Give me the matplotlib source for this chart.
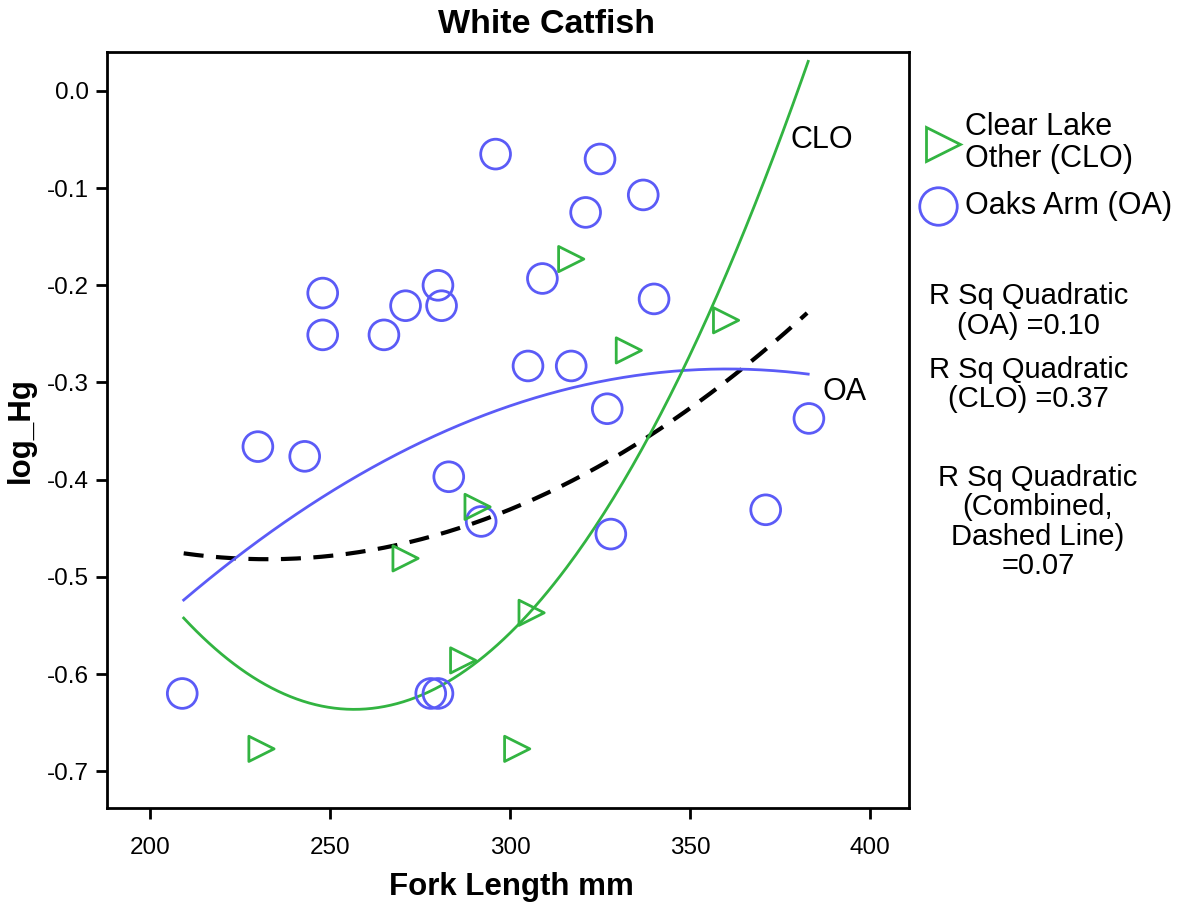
import numpy as np
import matplotlib.pyplot as plt
from matplotlib.lines import Line2D

plt.rcParams['font.family'] = ['Liberation Sans', 'DejaVu Sans']

# Oaks Arm (OA) points
oa_len = [209, 230, 243, 248, 248, 265, 271, 280, 281, 283, 292, 296, 305, 309,
          317, 321, 325, 327, 328, 337, 340, 371, 383, 278, 280]
oa_hg = [-0.62, -0.366, -0.376, -0.208, -0.251, -0.251, -0.221, -0.200, -0.221,
         -0.397, -0.443, -0.065, -0.283, -0.193, -0.283, -0.125, -0.070, -0.327,
         -0.456, -0.107, -0.214, -0.431, -0.337, -0.620, -0.620]

# Clear Lake Other (CLO) points
clo_len = [231, 271, 287, 291, 302, 306, 317, 333, 360]
clo_hg = [-0.677, -0.481, -0.586, -0.428, -0.677, -0.537, -0.173, -0.267, -0.236]

# quadratic fit lines
oa_fit_len = [209.4, 269.4, 307.5, 325.0, 347.2, 361.9, 382.8]
oa_fit_hg = [-0.525, -0.368, -0.318, -0.301, -0.288, -0.285, -0.291]
clo_fit_len = [209.4, 256.1, 280.6, 313.1, 325.0, 343.6, 347.2, 361.9, 378.6, 382.8]
clo_fit_hg = [-0.544, -0.635, -0.609, -0.500, -0.449, -0.318, -0.290, -0.181, -0.009, 0.032]
all_fit_len = [209.4, 234.4, 265.8, 290.0, 313.1, 325.0, 352.8, 361.9, 382.5]
all_fit_hg = [-0.476, -0.481, -0.469, -0.447, -0.408, -0.387, -0.318, -0.290, -0.231]

blue = '#5b5bf7'
green = '#32b441'

fig = plt.figure(figsize=(11.9, 9.07), dpi=100)
ax = fig.add_axes([0.0899, 0.109, 0.674, 0.8337])


def fit_curve(xv, yv):
    xs = np.linspace(min(xv), max(xv), 200)
    return xs, np.polyval(np.polyfit(xv, yv, 2), xs)


xs, ys = fit_curve(all_fit_len, all_fit_hg)
ax.plot(xs, ys, color='black', lw=3, dashes=(4.8, 3.0), zorder=2)
xs, ys = fit_curve(oa_fit_len, oa_fit_hg)
ax.plot(xs, ys, color=blue, lw=2, zorder=3)
xs, ys = fit_curve(clo_fit_len, clo_fit_hg)
ax.plot(xs, ys, color=green, lw=2, zorder=3)

ax.scatter(oa_len, oa_hg, s=460, facecolors='none', edgecolors=blue, linewidths=2, zorder=4)
ax.scatter(clo_len, clo_hg, s=330, marker='>', facecolors='none', edgecolors=green,
           linewidths=2, zorder=4)

ax.text(386.5, -0.05, 'CLO', fontsize=22, va='center', ha='center')
ax.text(393, -0.31, 'OA', fontsize=22, va='center', ha='center')

ax.set_xlim(188.1, 410.8)
ax.set_ylim(-0.738, 0.0401)
ax.set_xticks([200, 250, 300, 350, 400])
ax.set_yticks([0.0, -0.1, -0.2, -0.3, -0.4, -0.5, -0.6, -0.7])
ax.set_yticklabels(['0.0', '-0.1', '-0.2', '-0.3', '-0.4', '-0.5', '-0.6', '-0.7'])
ax.tick_params(direction='out', length=8, width=2, labelsize=17.5)
ax.tick_params(axis='x', pad=13)
ax.tick_params(axis='y', pad=5)
for sp in ax.spines.values():
    sp.set_linewidth(2)

fig.text(546.5 / 1190, 1 - 33 / 907, 'White Catfish', fontsize=24.5, fontweight='bold',
         ha='center', va='baseline')
fig.text(511.5 / 1190, 1 - 895 / 907, 'Fork Length mm', fontsize=22.5, fontweight='bold',
         ha='center', va='baseline')
ax.set_ylabel('log_Hg', fontsize=22.5, fontweight='bold', labelpad=8)

# legend drawn by hand at the right side
fig.add_artist(Line2D([943 / 1190], [1 - 144 / 907], marker='>', markersize=24,
                      markerfacecolor='none', markeredgecolor=green, markeredgewidth=2,
                      transform=fig.transFigure))
fig.add_artist(Line2D([937.5 / 1190], [1 - 205.5 / 907], marker='o', markersize=27,
                      markerfacecolor='none', markeredgecolor=blue, markeredgewidth=2,
                      transform=fig.transFigure))
fig.text(965 / 1190, 1 - 143 / 907, 'Clear Lake\nOther (CLO)', fontsize=22,
         va='center', ha='left', linespacing=1.07)
fig.text(965 / 1190, 1 - 206 / 907, 'Oaks Arm (OA)', fontsize=22, va='center', ha='left')

fig.text(1028.5 / 1190, 1 - 311 / 907, 'R Sq Quadratic\n(OA) =0.10', fontsize=21,
         va='center', ha='center', linespacing=1.09)
fig.text(1028.5 / 1190, 1 - 384.5 / 907, 'R Sq Quadratic\n(CLO) =0.37', fontsize=21,
         va='center', ha='center', linespacing=1.09)
fig.text(1038 / 1190, 1 - 522 / 907, 'R Sq Quadratic\n(Combined,\nDashed Line)\n=0.07',
         fontsize=21, va='center', ha='center', linespacing=1.07)

fig.savefig('out.png', dpi=100)
